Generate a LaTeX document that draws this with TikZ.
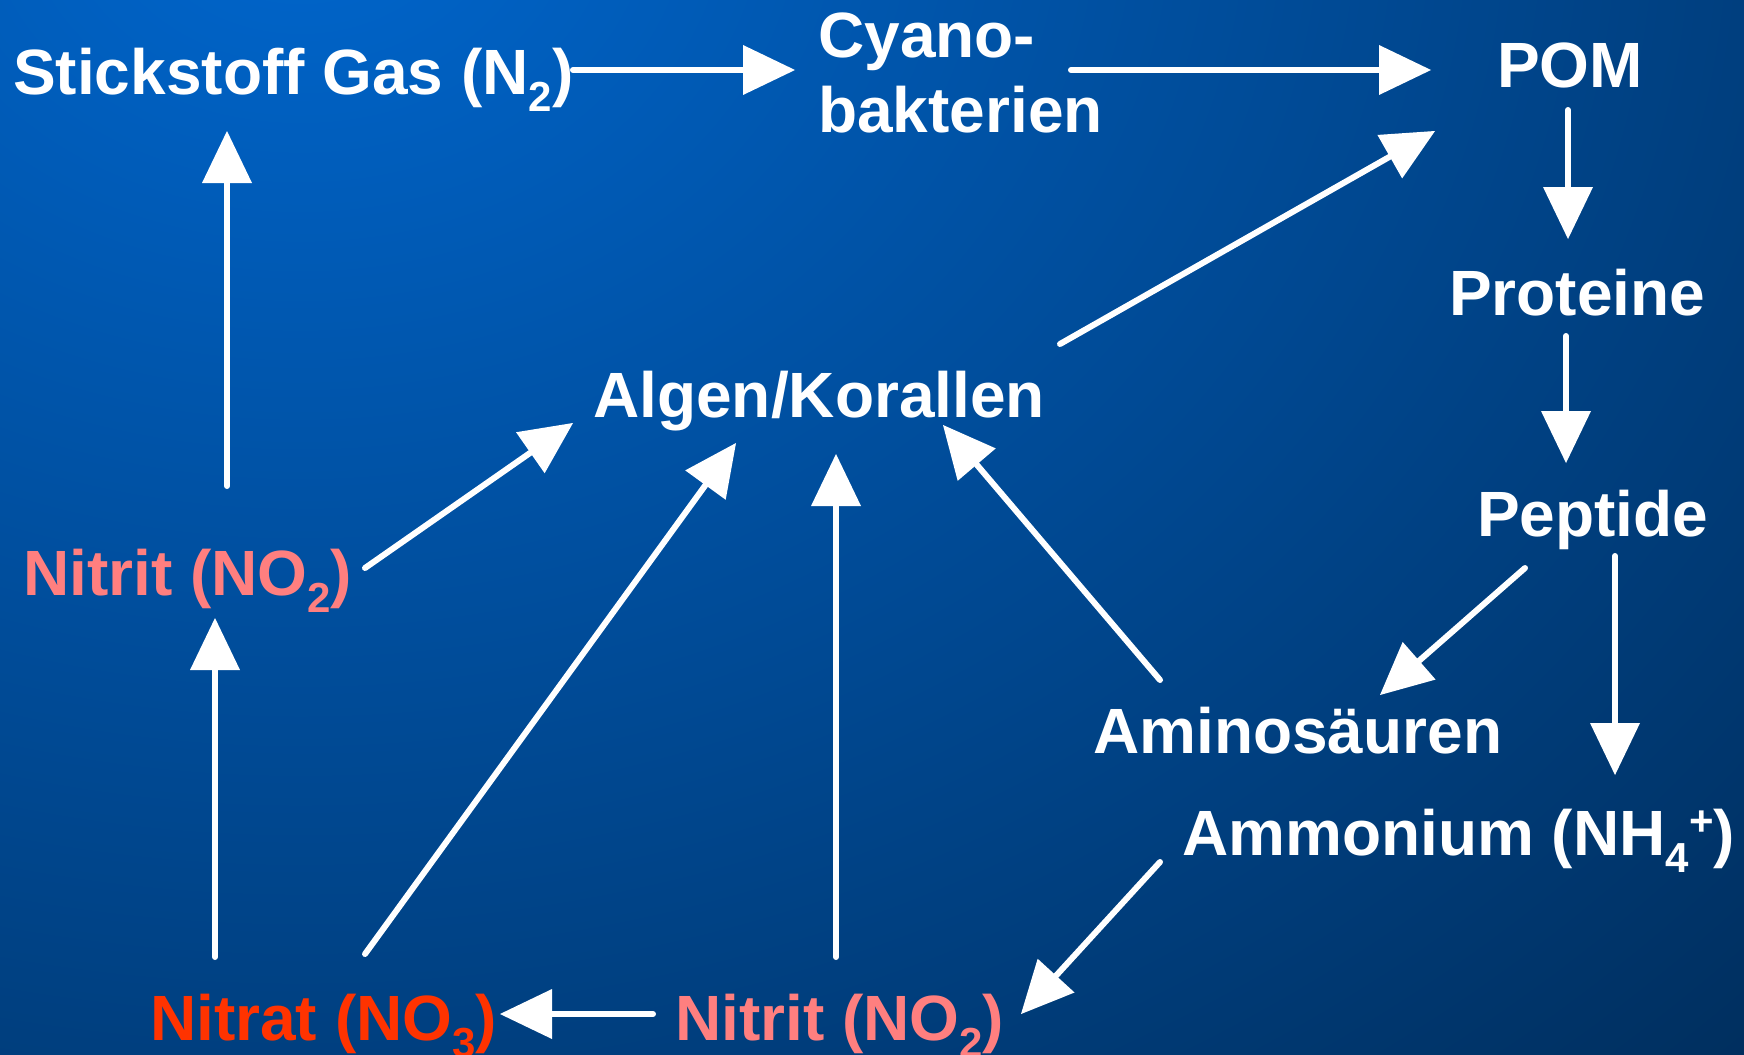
\documentclass[tikz,border=0pt]{standalone}
\usepackage{fontspec}
\setmainfont{Liberation Sans}
\usetikzlibrary{arrows.meta,calc}
\definecolor{bgin}{HTML}{0066CD}
\definecolor{bgout}{HTML}{002F5F}
\definecolor{nitritc}{HTML}{FF7F7F}
\definecolor{nitratc}{HTML}{FF3300}
\pgfdeclareradialshading{bgshade}{\pgfpoint{0bp}{0bp}}{color(0bp)=(bgin); color(34bp)=(bgout); color(100bp)=(bgout)}
\newcommand\subtxt[1]{\raisebox{-17pt}{\fontsize{42}{42}\selectfont #1}}
\newcommand\suptxt[1]{\raisebox{20pt}{\fontsize{42}{42}\selectfont #1}}
\begin{document}
\begin{tikzpicture}[x=1pt,y=-1pt,
  lbl/.style={anchor=base west, inner sep=0pt, text=white, font=\fontsize{64}{74}\selectfont\bfseries},
  arr/.style={draw=white, line width=6pt, line cap=round, -{Triangle[length=52pt,width=50pt,line width=0pt]}}]
\useasboundingbox (0,0) rectangle (1744,1054);
\begin{scope}
\clip (0,0) rectangle (1744,1054);
\shade[shading=bgshade] (-1200,-1300) rectangle (1800,1100);
\end{scope}

\node[lbl] (stick) at (13,95) {Stickstoff Gas (N\subtxt{2})};
\node[lbl, align=left] (cyano) at (818,132) {Cyano-\\bakterien};
\node[lbl] (pom) at (1497,88) {POM};
\node[lbl] (prot) at (1449,315) {Proteine};
\node[lbl] (pept) at (1477,536) {Peptide};
\node[lbl] (algen) at (593,417) {Algen/Korallen};
\node[lbl, text=nitritc] (nitrit1) at (23,595) {Nitrit (NO\subtxt{2})};
\node[lbl] (amino) at (1093,753) {Aminosäuren};
\node[lbl] (amm) at (1182,855) {Ammonium (NH\subtxt{4}\suptxt{+})};
\node[lbl, text=nitratc] (nitrat) at (150,1040) {Nitrat (NO\subtxt{3})};
\node[lbl, text=nitritc] (nitrit2) at (675,1040) {Nitrit (NO\subtxt{2})};

% top row
\draw[arr] ($(stick.base west)+(560,-25)$) -- ($(cyano.base west)+(-23,-62)$);
\draw[arr] ($(cyano.base west)+(253,-62)$) -- ($(pom.base west)+(-66,-18)$);
% right column
\draw[arr] ($(pom.base west)+(71,22)$) -- ($(pom.base west |- prot.base)+(71,-76)$);
\draw[arr] ($(prot.base west)+(117,21)$) -- ($(prot.base west |- pept.base)+(117,-73)$);
\draw[arr] ($(pept.base west)+(138,20)$) -- ($(pept.base west |- amm.base)+(138,-80)$);
\draw[arr] ($(pept.base west)+(48,32)$) -- ($(amino.base west)+(287,-58)$);
% to algen / pom
\draw[arr] ($(amino.base west)+(67,-73)$) -- ($(algen.base west)+(350,8)$);
\draw[arr] ($(algen.base west)+(467,-73)$) -- ($(pom.base west)+(-62,43)$);
% bottom
\draw[arr] ($(amm.base west)+(-22,7)$) -- ($(nitrit2.base west)+(346,-26)$);
\draw[arr] ($(nitrit2.base west)+(-22,-26)$) -- ($(nitrat.base west)+(350,-26)$);
\draw[arr] ($(nitrit2.base west)+(161,-83)$) -- ($(nitrit2.base west |- algen.base)+(161,37)$);
\draw[arr] ($(nitrat.base west)+(215,-86)$) -- ($(algen.base west)+(143,26)$);
\draw[arr] ($(nitrat.base west)+(65,-83)$) -- ($(nitrat.base west |- nitrit1.base)+(65,23)$);
% left column
\draw[arr] ($(nitrit1.base west)+(342,-27)$) -- ($(algen.base west)+(-20,6)$);
\draw[arr] ($(nitrit1.base west)+(204,-109)$) -- ($(nitrit1.base west |- stick.base)+(204,36)$);
\end{tikzpicture}
\end{document}
